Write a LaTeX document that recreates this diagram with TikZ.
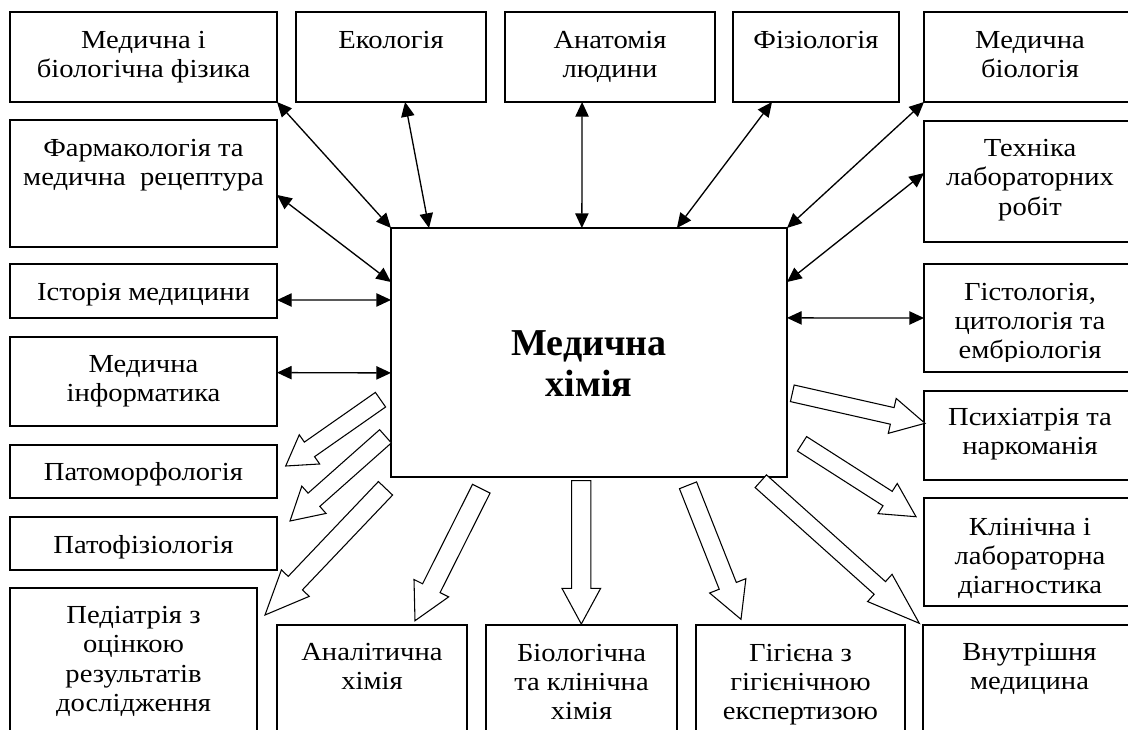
\documentclass[tikz,border=0pt]{standalone}
\usepackage{fontspec}
\setmainfont{Liberation Serif}
\newfontfamily\widefont[FakeStretch=1.1]{Liberation Serif}
\usetikzlibrary{calc,arrows.meta}
\newcommand\ml[1]{\begin{tabular}[t]{@{}c@{}}#1\end{tabular}}
\newcommand\bx[5]{\node[box,minimum width={(#4-#2)*0.75pt},minimum height={(#5-#3)*0.75pt}] (#1) at (#2,#3) {};}
% tail, tip, shaft width, head width, head length (px)
\newcommand\blockarr[5]{%
  \draw[blockarrow] let \p1=($(#2)-(#1)$), \n1={atan2(\y1,\x1)} in
   ($(#1)+({\n1+90}:{#3*0.375pt})$)
   -- ($(#2)+({\n1+180}:{#5*0.75pt})+({\n1+90}:{#3*0.375pt})$)
   -- ($(#2)+({\n1+180}:{#5*0.75pt})+({\n1+90}:{#4*0.375pt})$)
   -- (#2)
   -- ($(#2)+({\n1+180}:{#5*0.75pt})+({\n1-90}:{#4*0.375pt})$)
   -- ($(#2)+({\n1+180}:{#5*0.75pt})+({\n1-90}:{#3*0.375pt})$)
   -- ($(#1)+({\n1-90}:{#3*0.375pt})$) -- cycle;}
\begin{document}
\begin{tikzpicture}[x=0.75pt,y=-0.75pt,
  box/.style={draw,line width=1pt,anchor=north west,inner sep=0pt,outer sep=0pt},
  txt/.style={anchor=base,inner sep=0pt,font=\widefont\fontsize{19.5pt}{22.1pt}\selectfont},
  big/.style={anchor=base,inner sep=0pt,font=\bfseries\fontsize{28.5pt}{31.3pt}\selectfont},
  dbl/.style={{Triangle[length=11pt,width=10pt]}-{Triangle[length=11pt,width=10pt]},line width=1pt},
  blockarrow/.style={draw,fill=white,line width=0.8pt,line join=miter}]
\useasboundingbox (0,0) rectangle (1128,729);
\clip (0,0) rectangle (1128,729);
\fill[white] (0,0) rectangle (1128,729);

% boxes
\bx{fiz}{10}{12}{277}{102}
\bx{eco}{296}{12}{486}{102}
\bx{anat}{505}{12}{715}{102}
\bx{fiziol}{733}{12}{899}{102}
\bx{medbio}{924}{12}{1136}{102}
\bx{farm}{10}{120}{277}{247}
\bx{tekh}{924}{121}{1136}{242}
\bx{ist}{10}{264}{277}{318}
\bx{hist}{924}{264}{1136}{372}
\bx{inf}{10}{337}{277}{426}
\bx{psy}{924}{391}{1136}{480}
\bx{patm}{10}{445}{277}{498}
\bx{klin}{924}{498}{1136}{606}
\bx{patf}{10}{517}{277}{570}
\bx{ped}{10}{588}{257}{740}
\bx{anal}{277}{625}{467}{740}
\bx{bio}{486}{625}{677}{740}
\bx{hyg}{696}{625}{905}{740}
\bx{vnut}{923}{625}{1136}{740}
\bx{cen}{391}{228}{787}{477}

% texts
\node[txt] (fiz-t) at ($(fiz.north)+(0,36)$) {\ml{Медична і\\біологічна фізика}};
\node[txt] (eco-t) at ($(eco.north)+(0,36)$) {\ml{Екологія}};
\node[txt] (anat-t) at ($(anat.north)+(0,36)$) {\ml{Анатомія\\людини}};
\node[txt] (fiziol-t) at ($(fiziol.north)+(0,36)$) {\ml{Фізіологія}};
\node[txt] (medbio-t) at ($(medbio.north)+(0,36)$) {\ml{Медична\\біологія}};
\node[txt] (farm-t) at ($(farm.north)+(0,36.5)$) {\ml{Фармакологія та\\медична\ \ рецептура}};
\node[txt] (tekh-t) at ($(tekh.north)+(0,35.5)$) {\ml{Техніка\\лабораторних\\робіт}};
\node[txt] (ist-t) at ($(ist.north)+(0,36.5)$) {\ml{Історія медицини}};
\begin{scope}
\clip (924,264) rectangle (1136,361);
\node[txt] (hist-t) at ($(hist.north)+(0,36)$) {\ml{Гістологія,\\цитологія та\\ембріологія}};
\end{scope}
\node[txt] (inf-t) at ($(inf.north)+(0,35)$) {\ml{Медична\\інформатика}};
\node[txt] (psy-t) at ($(psy.north)+(0,34.5)$) {\ml{Психіатрія та\\наркоманія}};
\node[txt] (patm-t) at ($(patm.north)+(0,35)$) {\ml{Патоморфологія}};
\node[txt] (klin-t) at ($(klin.north)+(0,37)$) {\ml{Клінічна і\\лабораторна\\діагностика}};
\node[txt] (patf-t) at ($(patf.north)+(0,36)$) {\ml{Патофізіологія}};
\node[txt] (ped-t) at ($(ped.north)+(0,35.5)$) {\ml{Педіатрія з\\оцінкою\\результатів\\дослідження}};
\node[txt] (anal-t) at ($(anal.north)+(0,35.5)$) {\ml{Аналітична\\хімія}};
\node[txt] (bio-t) at ($(bio.north)+(0,36)$) {\ml{Біологічна\\та клінічна\\хімія}};
\node[txt] (hyg-t) at ($(hyg.north)+(0,36)$) {\ml{Гігієна з\\гігієнічною\\експертизою}};
\node[txt] (vnut-t) at ($(vnut.north)+(0,35.5)$) {\ml{Внутрішня\\медицина}};
\node[big] (cen-t) at (589,355) {\ml{Медична\\хімія}};

% double arrows
\draw[dbl] (fiz.south east) -- (cen.north west);
\draw[dbl] ($(farm.north east)!0.59!(farm.south east)$) -- ($(cen.north west)!0.217!(cen.south west)$);
\draw[dbl] ($(ist.north east)!0.667!(ist.south east)$) -- ($(cen.north west)!0.289!(cen.south west)$);
\draw[dbl] ($(inf.north east)!0.40!(inf.south east)$) -- ($(cen.north west)!0.582!(cen.south west)$);
\draw[dbl] ($(eco.south west)!0.574!(eco.south east)$) -- ($(cen.north west)!0.096!(cen.north east)$);
\draw[dbl] ($(anat.south west)!0.367!(anat.south east)$) -- ($(cen.north west)!0.482!(cen.north east)$);
\draw[dbl] ($(fiziol.south west)!0.235!(fiziol.south east)$) -- ($(cen.north west)!0.722!(cen.north east)$);
\draw[dbl] (medbio.south west) -- (cen.north east);
\draw[dbl] ($(tekh.north west)!0.43!(tekh.south west)$) -- ($(cen.north east)!0.217!(cen.south east)$);
\draw[dbl] (hist.west) -- ($(cen.north east)!0.361!(cen.south east)$);

% block arrows
\coordinate (a1s) at (380.5,399.7); \coordinate (a1e) at (285.7,466);
\coordinate (a2s) at (385.5,436.3); \coordinate (a2e) at (290,521);
\coordinate (a3s) at (385.5,488.3); \coordinate (a3e) at (265,615);
\coordinate (a4s) at (481.3,488.7); \coordinate (a4e) at (415,620.7);
\coordinate (a5s) at (581.3,480.7); \coordinate (a5e) at (581.3,624);
\coordinate (a6s) at (688,485.3);   \coordinate (a6e) at (741,619.3);
\coordinate (a7s) at (760.8,481.2); \coordinate (a7e) at (919.3,623.3);
\coordinate (a8s) at (792.3,393.3); \coordinate (a8e) at (925,423.3);
\coordinate (a9s) at (802,443.8);   \coordinate (a9e) at (916,516.7);
\blockarr{a1s}{a1e}{17.8}{35.6}{29}
\blockarr{a2s}{a2e}{17.7}{36.5}{32}
\blockarr{a3s}{a3e}{19.6}{38.4}{44}
\blockarr{a4s}{a4e}{19.6}{38.8}{36.4}
\blockarr{a5s}{a5e}{19.3}{38.7}{35.7}
\blockarr{a6s}{a6e}{18.4}{39}{36}
\blockarr{a7s}{a7e}{17}{36.6}{53}
\blockarr{a8s}{a8e}{17}{35.8}{33.6}
\blockarr{a9s}{a9e}{17.1}{35.8}{33.7}
\end{tikzpicture}
\end{document}
